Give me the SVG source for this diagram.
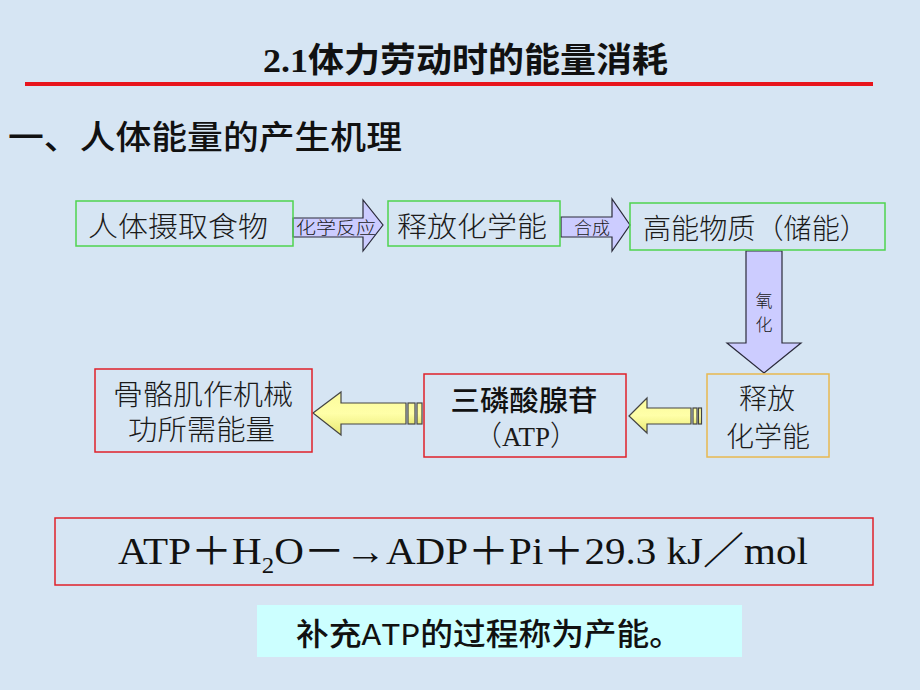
<svg xmlns="http://www.w3.org/2000/svg" width="920" height="690" viewBox="0 0 920 690">
<defs>
<style>
.cjk{font-family:"Noto Sans CJK SC","Liberation Sans",sans-serif;fill:#111}
.box{font-family:"Noto Sans CJK SC","Liberation Sans",sans-serif;font-size:28px;fill:#1a1a1a;font-weight:300}
.lbl{font-family:"Noto Sans CJK SC","Liberation Sans",sans-serif;font-size:17px;fill:#1a1a1a;font-weight:300}
.serif{font-family:"Liberation Serif","Noto Sans CJK SC",serif;fill:#111}
.green{fill:none;stroke:#4fd34f;stroke-width:1.5}
.red{fill:none;stroke:#e0202a;stroke-width:1.5}
.orange{fill:none;stroke:#e8b850;stroke-width:1.5}
.lav{fill:#ccccff;stroke:#2a2a3a;stroke-width:1.2;stroke-linejoin:miter}
.yel{fill:url(#yg);stroke:#444;stroke-width:1.2;stroke-linejoin:miter}
</style>
<linearGradient id="yg" x1="0" y1="0" x2="0" y2="1">
<stop offset="0" stop-color="#fbfb9c"/>
<stop offset="0.5" stop-color="#ffffa8"/>
<stop offset="1" stop-color="#e8e872"/>
</linearGradient>
</defs>
<rect width="920" height="690" fill="#d6e5f3"/>
<g id="title">
<text class="cjk" x="263" y="72" font-size="34" font-weight="bold" textLength="405" lengthAdjust="spacingAndGlyphs"><tspan font-family="Liberation Serif">2.1</tspan>体力劳动时的能量消耗</text>
<rect x="25" y="82" width="848" height="4" fill="#e8141c"/>
</g>
<g id="heading">
<text class="cjk" x="8" y="149" font-size="33" font-weight="500" textLength="394" lengthAdjust="spacingAndGlyphs">一、人体能量的产生机理</text>
</g>
<g id="connectors">
<path class="lav" d="M293,218 H363 V200 L383,225 L363,251 V237 H293 Z"/>
<text class="lbl" x="296" y="234" textLength="80" lengthAdjust="spacingAndGlyphs">化学反应</text>
<path class="lav" d="M561,217 H612 V199 L630,225 L612,251 V237 H561 Z"/>
<text class="lbl" x="574" y="234" textLength="36" lengthAdjust="spacingAndGlyphs">合成</text>
<path class="lav" d="M746,251 H782 V343 H801 L764,373 L727,343 H746 Z"/>
<text class="lbl" x="764" y="307" text-anchor="middle" font-size="20">氧</text>
<text class="lbl" x="764" y="331" text-anchor="middle" font-size="20">化</text>
<g>
<path class="yel" d="M629,416 L647,398 V408 H691 V424 H647 V433 Z"/>
<rect class="yel" x="693" y="408" width="4" height="16"/>
<rect class="yel" x="698.5" y="408" width="3" height="16"/>
</g>
<g>
<path class="yel" d="M313,413 L341,392 V403 H406 V424 H341 V435 Z"/>
<rect class="yel" x="408" y="403" width="7" height="21"/>
<rect class="yel" x="417" y="403" width="5" height="21"/>
</g>
</g>
<g id="food">
<rect class="green" x="76" y="201" width="217" height="45"/>
<text class="box" x="88" y="237" textLength="180" lengthAdjust="spacingAndGlyphs">人体摄取食物</text>
</g>
<g id="release1">
<rect class="green" x="388" y="201" width="172" height="45"/>
<text class="box" x="397" y="237" textLength="150" lengthAdjust="spacingAndGlyphs">释放化学能</text>
</g>
<g id="highenergy">
<rect class="green" x="630" y="203" width="255" height="47"/>
<text class="box" x="643" y="239" textLength="225" lengthAdjust="spacingAndGlyphs">高能物质（储能）</text>
</g>
<g id="release2">
<rect class="orange" x="707" y="374" width="122" height="83"/>
<text class="box" x="767" y="409" text-anchor="middle">释放</text>
<text class="box" x="768" y="447" text-anchor="middle">化学能</text>
</g>
<g id="atp">
<rect class="red" x="424" y="374" width="202" height="83"/>
<text class="cjk" x="524" y="411" text-anchor="middle" font-size="28" font-weight="500" textLength="147" lengthAdjust="spacingAndGlyphs">三磷酸腺苷</text>
<text class="box" x="526" y="446" text-anchor="middle" font-size="26"><tspan>（</tspan><tspan font-family="Liberation Serif" font-weight="normal" font-size="27">ATP</tspan><tspan>）</tspan></text>
</g>
<g id="muscle">
<rect class="red" x="95" y="369" width="217" height="83"/>
<text class="box" x="113" y="405" textLength="180" lengthAdjust="spacingAndGlyphs">骨骼肌作机械</text>
<text class="box" x="128" y="440" textLength="147" lengthAdjust="spacingAndGlyphs">功所需能量</text>
</g>
<g id="equation">
<rect class="red" x="55" y="518" width="818" height="67"/>
<text class="serif" x="118" y="564" font-size="38" textLength="690" lengthAdjust="spacingAndGlyphs">ATP＋H<tspan font-size="23" dy="9">2</tspan><tspan dy="-9">O－→ADP＋Pi＋29.3 kJ／mol</tspan></text>
</g>
<g id="note">
<rect x="257" y="605" width="485" height="52" fill="#ccffff"/>
<text class="cjk" x="296" y="645" font-size="31" font-weight="500" textLength="386" lengthAdjust="spacingAndGlyphs">补充<tspan font-family="Liberation Mono">ATP</tspan>的过程称为产能。</text>
</g>
</svg>
